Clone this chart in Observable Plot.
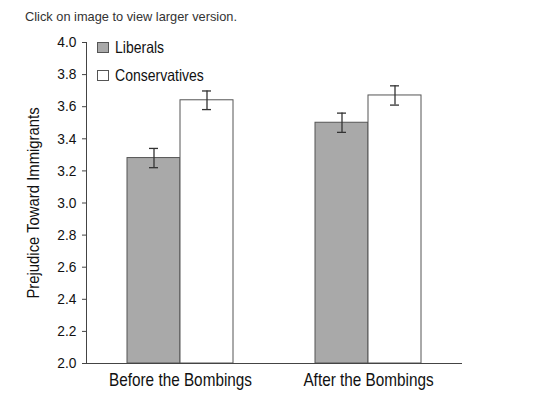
<!DOCTYPE html>
<html>
<head>
<meta charset="utf-8">
<script src="https://cdn.jsdelivr.net/npm/d3@7"></script>
<script src="https://cdn.jsdelivr.net/npm/@observablehq/plot@0.6"></script>
<style>
  html, body { margin: 0; padding: 0; background: #fff; }
  #wrap { position: relative; width: 539px; height: 395px; overflow: hidden; }
  #note { position: absolute; left: 25px; top: 9px; font-family: "Liberation Sans", Arial, sans-serif; font-size: 12.8px; color: #333; }
  #chart { position: absolute; left: 0; top: 30px; }
  #legend { position: absolute; left: 97px; top: 33px; font-family: "Liberation Sans", Arial, sans-serif; font-size: 16.5px; color: #111; }
  .item { display: flex; align-items: center; height: 28px; }
  .sw { width: 12px; height: 11px; border: 1px solid #555; box-sizing: border-box; margin-right: 6px; flex: none; }
  .lab { display: inline-block; transform: scaleX(0.85); transform-origin: left center; white-space: nowrap; }
</style>
</head>
<body>
<div id="wrap">
  <div id="note">Click on image to view larger version.</div>
  <div id="chart"></div>
  <div id="legend"></div>
</div>
<script>
const periods = ["Before the Bombings", "After the Bombings"];
const groups = ["Liberals", "Conservatives"];
const liberals = [3.28, 3.50];
const conservatives = [3.64, 3.67];
const liberalsErr = [0.06, 0.06];
const conservativesErr = [0.058, 0.06];
const yTicks = [2.0, 2.2, 2.4, 2.6, 2.8, 3.0, 3.2, 3.4, 3.6, 3.8, 4.0];
const groupColors = ["#a9a9a9", "#ffffff"];
const yLabel = "Prejudice Toward Immigrants";

const data = [];
periods.forEach((p, i) => {
  data.push({period: p, group: groups[0], value: liberals[i], err: liberalsErr[i]});
  data.push({period: p, group: groups[1], value: conservatives[i], err: conservativesErr[i]});
});
const yMin = yTicks[0], yMax = yTicks[yTicks.length - 1];
const font = '"Liberation Sans", Arial, sans-serif';

const chart = Plot.plot({
  width: 539,
  height: 365,
  marginLeft: 86,
  marginRight: 77,
  marginTop: 12,
  marginBottom: 32,
  style: {fontFamily: font, color: "#111", background: "transparent"},
  fx: {domain: periods, padding: 0, axis: null},
  x: {domain: groups, paddingInner: 0, paddingOuter: 0.757, axis: null},
  y: {domain: [yMin, yMax], axis: null},
  color: {domain: groups, range: groupColors},
  marks: [
    Plot.barY(data, {fx: "period", x: "group", y1: () => yMin, y2: "value", fill: "group", stroke: "#555", strokeWidth: 1}),
    Plot.ruleX(data, {fx: "period", x: "group", y1: d => d.value - d.err, y2: d => d.value + d.err, stroke: "#333", strokeWidth: 1.3}),
    Plot.tickY(data, {fx: "period", x: "group", y: d => d.value + d.err, insetLeft: 22, insetRight: 22, stroke: "#333", strokeWidth: 1.3}),
    Plot.tickY(data, {fx: "period", x: "group", y: d => d.value - d.err, insetLeft: 22, insetRight: 22, stroke: "#333", strokeWidth: 1.3}),
    Plot.ruleY([yMin], {stroke: "#444", strokeWidth: 1}),
    Plot.frame({anchor: "left", facetAnchor: "left", stroke: "#444", strokeWidth: 1}),
    Plot.axisY({ticks: yTicks, tickFormat: ".1f", tickSize: 4, tickPadding: 6, fontSize: 14.8,
      label: null, stroke: "#444"}),
    Plot.axisY({ticks: [], tickSize: 0, fontSize: 16.5,
      label: yLabel, labelAnchor: "center", labelOffset: 59, labelArrow: "none"}),
    Plot.axisFx({anchor: "bottom", tickSize: 0, tickPadding: 10, fontSize: 17.5, label: null})
  ]
});
document.getElementById("chart").appendChild(chart);

// Condense text glyphs (the reference uses a condensed face): wrap each text in a
// group that scales it about its own anchor point, however Plot positioned it.
function condense(selector, sx, sy) {
  chart.querySelectorAll(selector).forEach(t => {
    const parent = t.parentNode;
    const pm = parent.getCTM(), tm = t.getCTM();
    if (!pm || !tm) return;
    const rel = pm.inverse().multiply(tm);
    const xs = t.x && t.x.baseVal && t.x.baseVal.numberOfItems ? t.x.baseVal.getItem(0).value : 0;
    const ys = t.y && t.y.baseVal && t.y.baseVal.numberOfItems ? t.y.baseVal.getItem(0).value : 0;
    const ax = rel.a * xs + rel.c * ys + rel.e;
    const ay = rel.b * xs + rel.d * ys + rel.f;
    const g = document.createElementNS("http://www.w3.org/2000/svg", "g");
    g.setAttribute("transform", `translate(${ax},${ay}) scale(${sx},${sy}) translate(${-ax},${-ay})`);
    parent.insertBefore(g, t);
    g.appendChild(t);
  });
}
condense('g[aria-label="y-axis tick label"] text', 0.93, 1);
condense('g[aria-label="y-axis label"] text', 1, 0.9);
condense('g[aria-label="fx-axis tick label"] text', 0.875, 1);

const legend = document.getElementById("legend");
groups.forEach((g, i) => {
  const item = document.createElement("div");
  item.className = "item";
  const sw = document.createElement("div");
  sw.className = "sw";
  sw.style.background = groupColors[i];
  const t = document.createElement("span");
  t.className = "lab";
  t.textContent = g;
  item.appendChild(sw);
  item.appendChild(t);
  legend.appendChild(item);
});
</script>
</body>
</html>
